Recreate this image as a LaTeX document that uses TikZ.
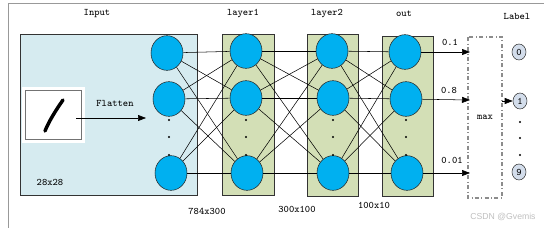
\documentclass[tikz,border=0pt]{standalone}
\usepackage{fontspec}
\setsansfont{Liberation Sans}
\usetikzlibrary{shapes.geometric,arrows.meta}
\definecolor{inputbg}{HTML}{D6EBF0}
\definecolor{layerbg}{HTML}{D3DFB6}
\definecolor{cellblue}{HTML}{00B0F0}
\definecolor{labelbg}{HTML}{D3DDEB}
\tikzset{
  cell/.style={ellipse, draw=black!85, fill=cellblue, minimum width=24pt, minimum height=26pt, inner sep=0pt},
  layerbox/.style={draw=black!80, fill=layerbg},
  lbl/.style={font=\ttfamily\fontsize{7.5}{8}\selectfont, inner sep=1pt},
  digit/.style={ellipse, draw=black!80, fill=labelbg, minimum width=10.5pt, minimum height=12pt, inner sep=0pt, font=\ttfamily\fontsize{7.5}{8}\selectfont},
  dot/.style={circle, fill=black, inner sep=0pt, minimum size=1.6pt},
  tip/.style={-{Triangle[length=6pt,width=4.5pt]}}
}
\begin{document}
\begin{tikzpicture}[x=0.75pt,y=-0.75pt]
        \useasboundingbox (0,0) rectangle (544,228);
        % frame
        \draw[black!40] (8,228) -- (8,3) -- (544,3);
        % boxes
        \draw[black!80, fill=inputbg] (20,34) rectangle (197,195);
        \draw[layerbox] (222,34) rectangle (274,195);
        \draw[layerbox] (307,34) rectangle (358,196);
        \draw[layerbox] (382,36) rectangle (433,196);
        \draw[black!45, dash dot, line width=0.8pt] (468,37) rectangle (502,198);
        % input image
        \node[fill=white, minimum width=47pt, minimum height=42pt, inner sep=0pt] (img) at (53.5,115) {};
        \draw[black!55] (25,90) rectangle (81,139);
        \draw[line width=2.6pt, line cap=round] (45,131) .. controls (49,121) and (56,110) .. (63,100);
        \coordinate (src) at (76,118);
        \coordinate (flat) at (146,118);
        \draw[tip] (src) -- (flat);
        \node[lbl] (fltxt) at (115,103) {Flatten};
        \node[lbl] (size) at (50,182) {28x28};
        % neurons
        \node[cell] (i1) at (167,53) {};
        \node[cell] (i2) at (169,99) {};
        \node[cell] (i3) at (171,173) {};
        \node[cell] (a1) at (246,51) {};
        \node[cell] (a2) at (246,98) {};
        \node[cell] (a3) at (247,173) {};
        \node[cell] (b1) at (332,51) {};
        \node[cell] (b2) at (333,98) {};
        \node[cell] (b3) at (333,173) {};
        \node[cell] (o1) at (405,52) {};
        \node[cell] (o2) at (406,99) {};
        \node[cell] (o3) at (407,173) {};
        \foreach \x in {169,246,333,406}
          \foreach \y in {120,137,155}
            \node[dot] at (\x,\y) {};
        % full connections
        \foreach \p in {1,2,3}
          \foreach \q in {1,2,3} {
            \draw[line width=0.4pt] (i\p) -- (a\q);
            \draw[line width=0.4pt] (a\p) -- (b\q);
            \draw[line width=0.4pt] (b\p) -- (o\q);
          }
        % titles
        \node[lbl] (tin) at (97,14) {Input};
        \node[lbl] (tl1) at (243,14) {layer1};
        \node[lbl] (tl2) at (327,14) {layer2};
        \node[lbl] (tout) at (404,14) {out};
        \node[lbl] (tlab) at (517,16) {Label};
        \node[lbl] (w1) at (207,211) {784x300};
        \node[lbl] (w2) at (297,209) {300x100};
        \node[lbl] (w3) at (374,205) {100x10};
        % outputs
        \coordinate (m1) at (470,52);
        \coordinate (m2) at (470,100);
        \coordinate (m3) at (470,173);
        \draw[tip] (o1) -- (m1);
        \draw[tip] (o2) -- (m2);
        \draw[tip] (o3) -- (m3);
        \node[lbl] (p1) at (450,42) {0.1};
        \node[lbl] (p2) at (449,90) {0.8};
        \node[lbl] (p3) at (452,160) {0.01};
        \node[lbl] (mx) at (485,117) {max};
        % labels
        \node[digit] (l0) at (519,52) {0};
        \node[digit] (l1) at (520,101) {1};
        \node[digit] (l9) at (519,172) {9};
        \foreach \y in {122,138,155}
          \node[dot] at (520,\y) {};
        \coordinate (mr) at (502,101);
        \draw[tip] (mr) -- (l1);
        \node[font=\sffamily\fontsize{6.5}{7}\selectfont, text=black!25] (wm) at (503,217) {CSDN @Gvemis};
\end{tikzpicture}
\end{document}
